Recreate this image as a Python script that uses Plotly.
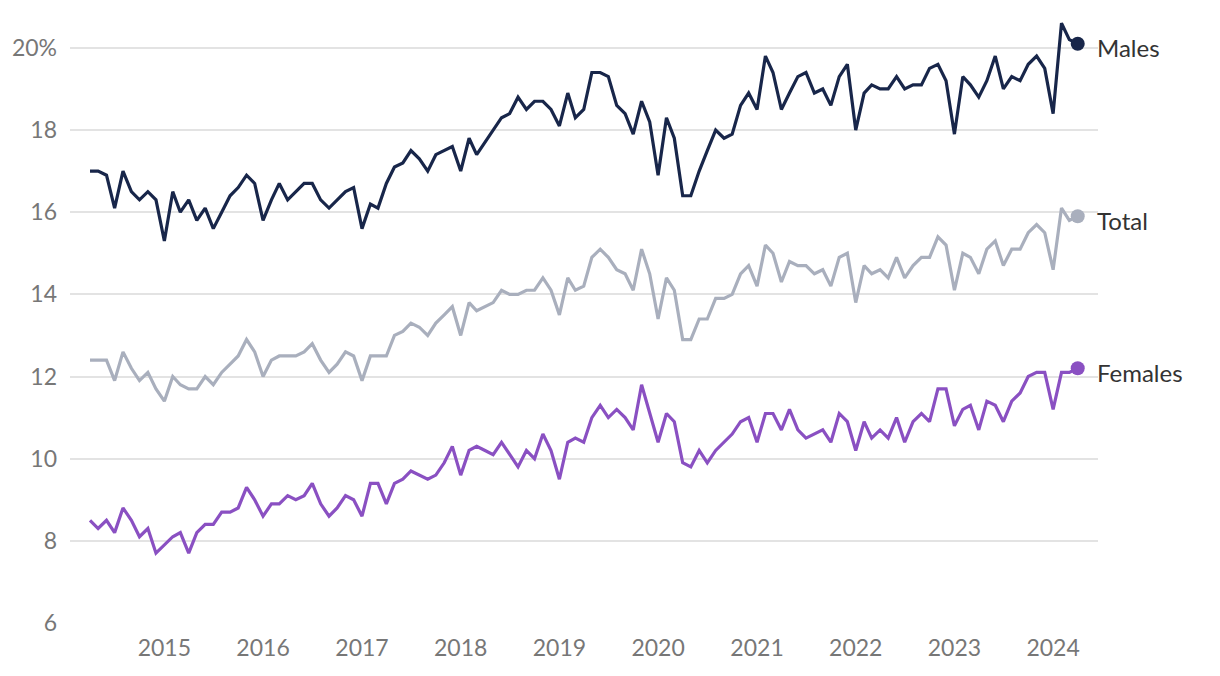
import pandas as pd
import plotly.graph_objects as go

# monthly series, April 2014 to April 2024
dates = pd.date_range("2014-04-01", "2024-04-01", freq="MS")

males = [17.0, 17.0, 16.9, 16.1, 17.0, 16.5, 16.3, 16.5, 16.3, 15.3,
         16.5, 16.0, 16.3, 15.8, 16.1, 15.6, 16.0, 16.4, 16.6, 16.9,
         16.7, 15.8, 16.3, 16.7, 16.3, 16.5, 16.7, 16.7, 16.3, 16.1,
         16.3, 16.5, 16.6, 15.6, 16.2, 16.1, 16.7, 17.1, 17.2, 17.5,
         17.3, 17.0, 17.4, 17.5, 17.6, 17.0, 17.8, 17.4, 17.7, 18.0,
         18.3, 18.4, 18.8, 18.5, 18.7, 18.7, 18.5, 18.1, 18.9, 18.3,
         18.5, 19.4, 19.4, 19.3, 18.6, 18.4, 17.9, 18.7, 18.2, 16.9,
         18.3, 17.8, 16.4, 16.4, 17.0, 17.5, 18.0, 17.8, 17.9, 18.6,
         18.9, 18.5, 19.8, 19.4, 18.5, 18.9, 19.3, 19.4, 18.9, 19.0,
         18.6, 19.3, 19.6, 18.0, 18.9, 19.1, 19.0, 19.0, 19.3, 19.0,
         19.1, 19.1, 19.5, 19.6, 19.2, 17.9, 19.3, 19.1, 18.8, 19.2,
         19.8, 19.0, 19.3, 19.2, 19.6, 19.8, 19.5, 18.4, 20.6, 20.2,
         20.1]

total = [12.4, 12.4, 12.4, 11.9, 12.6, 12.2, 11.9, 12.1, 11.7, 11.4,
         12.0, 11.8, 11.7, 11.7, 12.0, 11.8, 12.1, 12.3, 12.5, 12.9,
         12.6, 12.0, 12.4, 12.5, 12.5, 12.5, 12.6, 12.8, 12.4, 12.1,
         12.3, 12.6, 12.5, 11.9, 12.5, 12.5, 12.5, 13.0, 13.1, 13.3,
         13.2, 13.0, 13.3, 13.5, 13.7, 13.0, 13.8, 13.6, 13.7, 13.8,
         14.1, 14.0, 14.0, 14.1, 14.1, 14.4, 14.1, 13.5, 14.4, 14.1,
         14.2, 14.9, 15.1, 14.9, 14.6, 14.5, 14.1, 15.1, 14.5, 13.4,
         14.4, 14.1, 12.9, 12.9, 13.4, 13.4, 13.9, 13.9, 14.0, 14.5,
         14.7, 14.2, 15.2, 15.0, 14.3, 14.8, 14.7, 14.7, 14.5, 14.6,
         14.2, 14.9, 15.0, 13.8, 14.7, 14.5, 14.6, 14.4, 14.9, 14.4,
         14.7, 14.9, 14.9, 15.4, 15.2, 14.1, 15.0, 14.9, 14.5, 15.1,
         15.3, 14.7, 15.1, 15.1, 15.5, 15.7, 15.5, 14.6, 16.1, 15.8,
         15.9]

females = [8.5, 8.3, 8.5, 8.2, 8.8, 8.5, 8.1, 8.3, 7.7, 7.9,
           8.1, 8.2, 7.7, 8.2, 8.4, 8.4, 8.7, 8.7, 8.8, 9.3,
           9.0, 8.6, 8.9, 8.9, 9.1, 9.0, 9.1, 9.4, 8.9, 8.6,
           8.8, 9.1, 9.0, 8.6, 9.4, 9.4, 8.9, 9.4, 9.5, 9.7,
           9.6, 9.5, 9.6, 9.9, 10.3, 9.6, 10.2, 10.3, 10.2, 10.1,
           10.4, 10.1, 9.8, 10.2, 10.0, 10.6, 10.2, 9.5, 10.4, 10.5,
           10.4, 11.0, 11.3, 11.0, 11.2, 11.0, 10.7, 11.8, 11.1, 10.4,
           11.1, 10.9, 9.9, 9.8, 10.2, 9.9, 10.2, 10.4, 10.6, 10.9,
           11.0, 10.4, 11.1, 11.1, 10.7, 11.2, 10.7, 10.5, 10.6, 10.7,
           10.4, 11.1, 10.9, 10.2, 10.9, 10.5, 10.7, 10.5, 11.0, 10.4,
           10.9, 11.1, 10.9, 11.7, 11.7, 10.8, 11.2, 11.3, 10.7, 11.4,
           11.3, 10.9, 11.4, 11.6, 12.0, 12.1, 12.1, 11.2, 12.1, 12.1,
           12.2]

names = ["Males", "Total", "Females"]
colors = ["#18264a", "#a9afbd", "#8a50c2"]
series = [males, total, females]

fig = go.Figure()
for name, vals, col in zip(names, series, colors):
    fig.add_trace(go.Scatter(x=dates, y=vals, mode="lines", name=name,
                             line=dict(color=col, width=3.2), hoverinfo="x+y"))
    # dot on the latest value
    fig.add_trace(go.Scatter(x=[dates[-1]], y=[vals[-1]], mode="markers",
                             marker=dict(color=col, size=14), hoverinfo="skip"))
    fig.add_annotation(x=dates[-1], y=vals[-1], text=name, showarrow=False,
                       xanchor="left", yanchor="middle", xshift=17, yshift=-4,
                       font=dict(family="Lato", size=24, color="#333333"))

# the page body adds 8px, so margins are pulled in by that much
fig.update_layout(
    width=1220, height=676,
    margin=dict(l=62, r=130, t=7, b=61),
    plot_bgcolor="white", paper_bgcolor="white",
    showlegend=False,
    font=dict(family="Lato", size=24, color="#777777"),
)
fig.update_xaxes(range=["2014-01-17", "2024-06-15"], dtick="M12", tickformat="%Y",
                 showgrid=False, zeroline=False, showline=False, ticks="",
                 ticklabelstandoff=9, automargin=False,
                 tickfont=dict(size=23, color="#777777"))
fig.update_yaxes(range=[6, 20.8], tickvals=[6, 8, 10, 12, 14, 16, 18, 20],
                 ticktext=["6", "8", "10", "12", "14", "16", "18", "20%"],
                 showgrid=True, gridcolor="#e3e3e3", gridwidth=1.5,
                 zeroline=False, showline=False, ticks="", ticklabelstandoff=12,
                 automargin=False, tickfont=dict(size=23, color="#777777"))

fig.write_html("out.html")
